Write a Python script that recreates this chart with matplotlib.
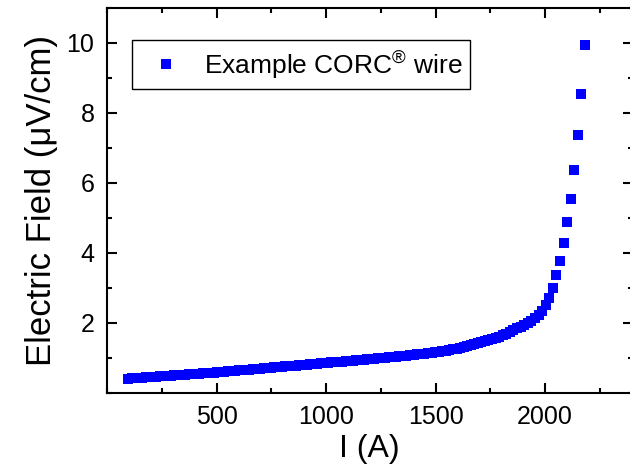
import matplotlib
matplotlib.use("Agg")
import matplotlib.pyplot as plt
from matplotlib.ticker import MultipleLocator

plt.rcParams["font.family"] = ["Liberation Sans", "DejaVu Sans"]
plt.rcParams["mathtext.fontset"] = "custom"
plt.rcParams["mathtext.rm"] = "Liberation Sans"

# measured E(I) curve
current = [
    96, 112, 129, 145, 161, 178, 194, 210, 226, 243, 259, 275, 292, 308, 324, 340,
    357, 373, 389, 406, 422, 438, 455, 471, 487, 504, 520, 536, 552, 569, 585, 601,
    618, 634, 650, 667, 683, 699, 715, 732, 748, 764, 781, 797, 813, 830, 846, 862,
    878, 895, 911, 927, 944, 960, 976, 993, 1009, 1025, 1041, 1058, 1074, 1090, 1107,
    1123, 1139, 1156, 1172, 1188, 1204, 1221, 1237, 1253, 1270, 1286, 1302, 1319,
    1335, 1351, 1367, 1384, 1400, 1416, 1433, 1449, 1465, 1482, 1498, 1514, 1530,
    1547, 1563, 1579, 1596, 1612, 1628, 1645, 1661, 1677, 1693, 1710, 1726, 1742,
    1759, 1775, 1791, 1808, 1824, 1840, 1856, 1873, 1889, 1905, 1922, 1938, 1954,
    1971, 1987, 2003, 2019, 2036, 2052, 2068, 2085, 2101, 2117, 2134, 2150, 2166, 2182,
]
field = [
    0.410, 0.417, 0.425, 0.432, 0.439, 0.447, 0.454, 0.461, 0.468, 0.476, 0.483,
    0.490, 0.497, 0.505, 0.512, 0.519, 0.526, 0.534, 0.541, 0.548, 0.555, 0.563,
    0.570, 0.577, 0.584, 0.592, 0.601, 0.609, 0.618, 0.627, 0.636, 0.645, 0.654,
    0.662, 0.671, 0.680, 0.689, 0.697, 0.706, 0.715, 0.724, 0.733, 0.742, 0.750,
    0.759, 0.768, 0.777, 0.785, 0.794, 0.803, 0.812, 0.821, 0.830, 0.838, 0.847,
    0.856, 0.865, 0.873, 0.881, 0.889, 0.897, 0.905, 0.914, 0.924, 0.933, 0.944,
    0.953, 0.963, 0.972, 0.983, 0.992, 1.002, 1.012, 1.022, 1.031, 1.041, 1.051,
    1.061, 1.070, 1.080, 1.090, 1.101, 1.113, 1.124, 1.136, 1.147, 1.159, 1.174,
    1.190, 1.207, 1.226, 1.245, 1.265, 1.287, 1.309, 1.333, 1.360, 1.389, 1.417,
    1.448, 1.477, 1.506, 1.540, 1.575, 1.610, 1.652, 1.697, 1.742, 1.789, 1.844,
    1.895, 1.950, 2.000, 2.060, 2.130, 2.220, 2.340, 2.510, 2.720, 3.010, 3.370,
    3.770, 4.280, 4.880, 5.540, 6.370, 7.370, 8.530, 9.940,
]
series_label = r"Example CORC$^{®}$ wire"

fig = plt.figure(figsize=(6.3, 4.72), dpi=100)
ax = fig.add_axes([107 / 630, 79 / 472, 525.6 / 630, 385 / 472])

ax.plot(current, field, linestyle="none", marker="s", markersize=7.2,
        markeredgewidth=0, color="#0000ff", label=series_label)

ax.set_xlim(0, 2400)
ax.set_ylim(0, 11)
ax.xaxis.set_major_locator(MultipleLocator(500))
ax.xaxis.set_minor_locator(MultipleLocator(250))
ax.yaxis.set_major_locator(MultipleLocator(2))
ax.yaxis.set_minor_locator(MultipleLocator(1))
ax.set_xticks([500, 1000, 1500, 2000])
ax.set_yticks([2, 4, 6, 8, 10])

for side in ax.spines.values():
    side.set_linewidth(1.5)
ax.tick_params(which="both", direction="in", top=True, right=True,
               labelsize=18, width=1.5)
ax.tick_params(which="major", length=7, pad=9)
ax.tick_params(which="minor", length=3.5)

ax.set_xlabel("I (A)", fontsize=23, labelpad=3)
ax.set_ylabel("Electric Field (μV/cm)", fontsize=25, labelpad=6)

leg = ax.legend(loc="upper left", bbox_to_anchor=(0.0476, 0.917),
                borderaxespad=0, fontsize=19, fancybox=False, framealpha=1,
                edgecolor="black", handlelength=2.0, handletextpad=0.42,
                borderpad=0.3, numpoints=1)
leg.get_frame().set_linewidth(1.0)

fig.savefig("out.png", dpi=100)
